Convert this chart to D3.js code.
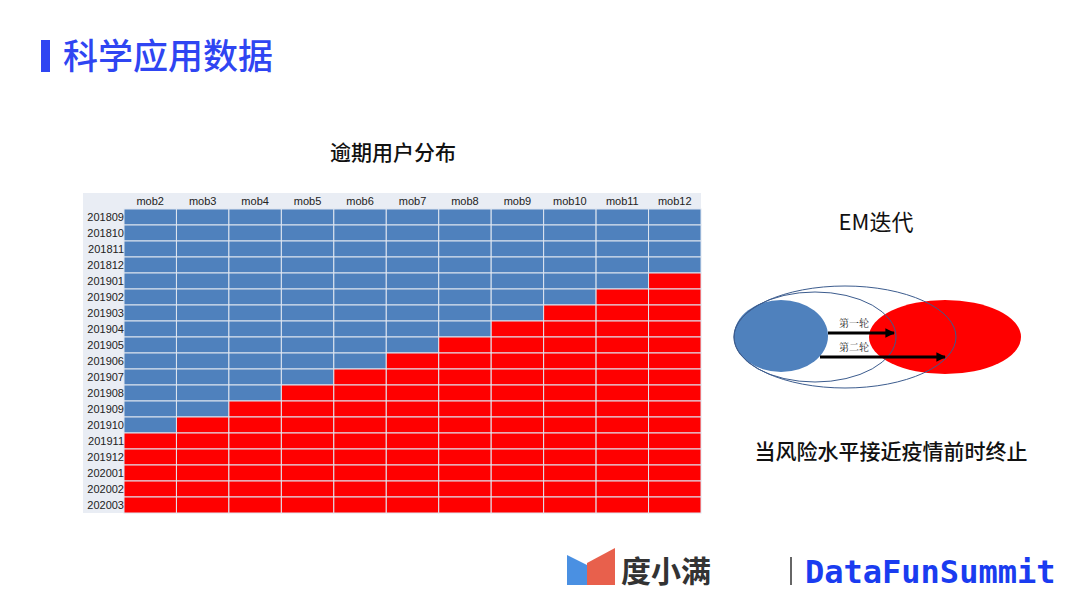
<!DOCTYPE html>
<html>
<head>
<meta charset="utf-8">
<script src="https://cdn.jsdelivr.net/npm/d3@7"></script>
<style>
  body { margin: 0; background: #fff; }
  svg { display: block; }
</style>
</head>
<body>
<svg id="chart" width="1080" height="608"></svg>
<script>
// cohorts (rows) and months on book (columns)
const cohorts = ["201809", "201810", "201811", "201812", "201901", "201902", "201903",
  "201904", "201905", "201906", "201907", "201908", "201909", "201910", "201911",
  "201912", "202001", "202002", "202003"];
const mobs = ["mob2", "mob3", "mob4", "mob5", "mob6", "mob7", "mob8", "mob9", "mob10", "mob11", "mob12"];
// last mob number that is still observed before the epidemic for each cohort
const lastObservedMob = [12, 12, 12, 12, 11, 10, 9, 8, 7, 6, 5, 4, 3, 2, 1, 1, 1, 1, 1];
const rounds = ["第一轮", "第二轮"];

const svg = d3.select("#chart");
const cjk = "'Noto Sans CJK SC', 'Noto Sans', sans-serif";

// page title
svg.append("rect").attr("x", 41).attr("y", 40).attr("width", 9).attr("height", 32).attr("fill", "#2f45f2");
svg.append("text").attr("x", 63).attr("y", 69).text("科学应用数据")
  .style("font-family", cjk).style("font-size", "35px").style("font-weight", 500).style("fill", "#2f45f2");

// table title
svg.append("text").attr("x", 393).attr("y", 160).attr("text-anchor", "middle").text("逾期用户分布")
  .style("font-family", cjk).style("font-size", "21px").style("font-weight", 500).style("fill", "#111");

// grid
const gridLeft = 83, labelW = 41, gridRight = 701, gridTop = 193, headH = 16, gridBottom = 513;
const x = d3.scaleBand().domain(mobs).range([gridLeft + labelW, gridRight]);
const y = d3.scaleBand().domain(cohorts).range([gridTop + headH, gridBottom]);

const g = svg.append("g");
g.append("rect").attr("x", gridLeft).attr("y", gridTop).attr("width", gridRight - gridLeft).attr("height", headH)
  .attr("fill", "#e9edf4");
g.append("rect").attr("x", gridLeft).attr("y", gridTop + headH).attr("width", labelW)
  .attr("height", gridBottom - gridTop - headH).attr("fill", "#e9edf4");

const cells = [];
cohorts.forEach((c, i) => {
  mobs.forEach((m) => {
    const n = +m.replace("mob", "");
    cells.push({ cohort: c, mob: m, observed: n <= lastObservedMob[i] });
  });
});

g.selectAll(".cell").data(cells).enter().append("rect")
  .attr("x", (d) => x(d.mob))
  .attr("y", (d) => y(d.cohort))
  .attr("width", x.bandwidth())
  .attr("height", y.bandwidth())
  .attr("fill", (d) => (d.observed ? "#4f81bd" : "#ff0000"))
  .attr("stroke", "#dfe6f0")
  .attr("stroke-width", 1);

g.selectAll(".head").data(mobs).enter().append("text")
  .attr("x", (d) => x(d) + x.bandwidth() / 2)
  .attr("y", gridTop + headH / 2 + 4)
  .attr("text-anchor", "middle")
  .text((d) => d)
  .style("font-family", "Arial, 'Liberation Sans', sans-serif").style("font-size", "11px").style("fill", "#222");

g.selectAll(".row").data(cohorts).enter().append("text")
  .attr("x", gridLeft + labelW)
  .attr("y", (d) => y(d) + y.bandwidth() / 2 + 4)
  .attr("text-anchor", "end")
  .text((d) => d)
  .style("font-family", "Arial, 'Liberation Sans', sans-serif").style("font-size", "11px").style("fill", "#222");

// EM diagram
svg.append("text").attr("x", 876).attr("y", 230).attr("text-anchor", "middle").text("EM迭代")
  .style("font-family", cjk).style("font-size", "22px").style("fill", "#111");

const em = svg.append("g");
em.append("ellipse").attr("cx", 781).attr("cy", 336).attr("rx", 47).attr("ry", 36).attr("fill", "#4f81bd");
em.append("ellipse").attr("cx", 945).attr("cy", 337).attr("rx", 76).attr("ry", 37).attr("fill", "#ff0000");
em.append("ellipse").attr("cx", 815).attr("cy", 337).attr("rx", 81).attr("ry", 45)
  .attr("fill", "none").attr("stroke", "#3c5c8e").attr("stroke-width", 1);
em.append("ellipse").attr("cx", 845).attr("cy", 337).attr("rx", 111).attr("ry", 51)
  .attr("fill", "none").attr("stroke", "#3c5c8e").attr("stroke-width", 1);

svg.append("defs").append("marker").attr("id", "arrow").attr("viewBox", "0 0 10 10")
  .attr("refX", 9).attr("refY", 5).attr("markerWidth", 3.2).attr("markerHeight", 3.2)
  .attr("orient", "auto").attr("markerUnits", "strokeWidth")
  .append("path").attr("d", "M0,0L10,5L0,10Z").attr("fill", "#000");

const arrows = [
  { x1: 828, x2: 896, y: 333 },
  { x1: 820, x2: 947, y: 357 },
];
arrows.forEach((a, i) => {
  em.append("line").attr("x1", a.x1).attr("x2", a.x2 - 2).attr("y1", a.y).attr("y2", a.y)
    .attr("stroke", "#000").attr("stroke-width", 3).attr("marker-end", "url(#arrow)");
  em.append("text").attr("x", 839).attr("y", a.y - 6).text(rounds[i])
    .style("font-family", "'Noto Serif CJK SC', 'Noto Sans CJK SC', serif").style("font-size", "10px").style("fill", "#222");
});

svg.append("text").attr("x", 891).attr("y", 459).attr("text-anchor", "middle").text("当风险水平接近疫情前时终止")
  .style("font-family", cjk).style("font-size", "21px").style("font-weight", 500).style("fill", "#111");

// footer logos
const logo = svg.append("g");
logo.append("path").attr("d", "M567,555 L587,565 L587,585 L567,585 Z").attr("fill", "#4a90e2");
logo.append("path").attr("d", "M587,563 L615,548 L615,585 L587,585 Z").attr("fill", "#e8604c");
logo.append("text").attr("x", 621).attr("y", 582).text("度小满")
  .style("font-family", cjk).style("font-size", "30px").style("font-weight", "bold").style("fill", "#333");
logo.append("line").attr("x1", 791).attr("x2", 791).attr("y1", 557).attr("y2", 585)
  .attr("stroke", "#333").attr("stroke-width", 1.5);
logo.append("text").attr("x", 805).attr("y", 583).text("DataFunSummit")
  .style("font-family", "'DejaVu Sans Mono', monospace").style("font-size", "32px").style("font-weight", "bold")
  .style("fill", "#1a3cf0");
</script>
</body>
</html>
